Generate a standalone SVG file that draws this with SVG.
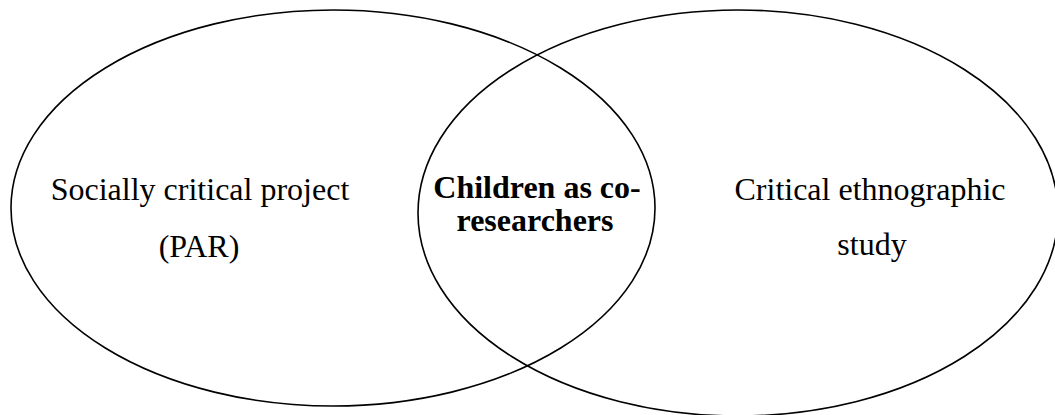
<svg xmlns="http://www.w3.org/2000/svg" width="1055" height="415" viewBox="0 0 1055 415">
<style>
.e{fill:none;stroke:#000;stroke-width:1.6}
.t{font-family:"Liberation Serif","Times New Roman",serif;font-size:32px;fill:#000;text-anchor:middle}
.b{font-weight:bold}
</style>
<rect width="1055" height="415" fill="#fff"/>
<g id="left">
<ellipse class="e" cx="333" cy="208" rx="322" ry="198"/>
<text class="t" x="200" y="200">Socially critical project</text>
<text class="t" x="199" y="257">(PAR)</text>
</g>
<g id="right">
<ellipse class="e" cx="738" cy="213" rx="320" ry="203"/>
<text class="t" x="870" y="200">Critical ethnographic</text>
<text class="t" x="872" y="255">study</text>
</g>
<g id="overlap">
<text class="t b" x="537" y="198">Children as co-</text>
<text class="t b" x="535" y="231">researchers</text>
</g>
<g id="connectors"/>
</svg>
